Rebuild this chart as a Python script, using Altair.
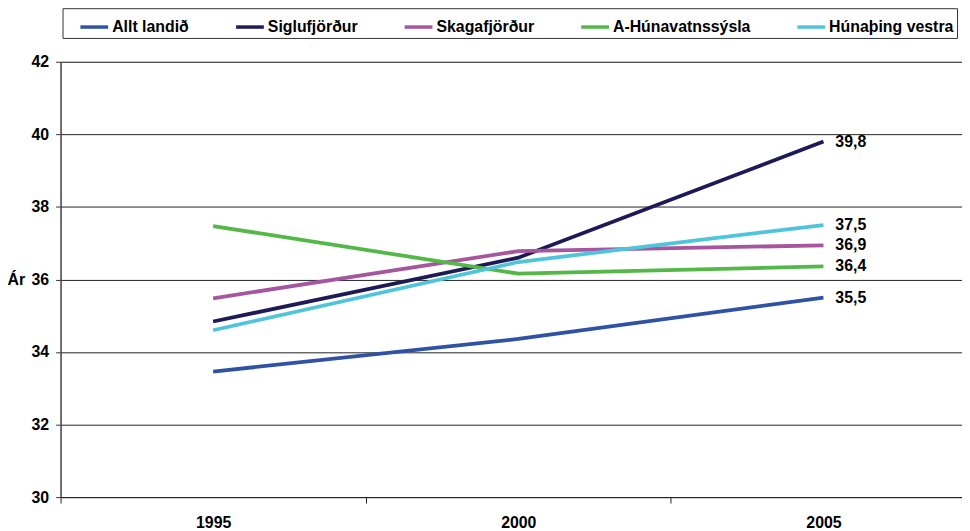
import altair as alt
import pandas as pd

years = [1995, 2000, 2005]
series = ["Allt landið", "Siglufjörður", "Skagafjörður", "A-Húnavatnssýsla", "Húnaþing vestra"]
allt_landid = [33.46, 34.36, 35.50]
siglufjordur = [34.84, 36.60, 39.80]
skagafjordur = [35.48, 36.78, 36.94]
a_hunavatnssysla = [37.47, 36.16, 36.36]
hunathing_vestra = [34.60, 36.48, 37.50]
colors = ["#2F52A4", "#1E1A56", "#A6559F", "#53B848", "#4FC4DB"]

values = [allt_landid, siglufjordur, skagafjordur, a_hunavatnssysla, hunathing_vestra]
rows = []
for name, vals in zip(series, values):
    for y, v in zip(years, vals):
        rows.append({"Ár": y, "Sveitarfélag": name, "Aldur": v})
df = pd.DataFrame(rows)

FONT = "Liberation Sans"

x_enc = alt.X(
    "Ár:Q",
    scale=alt.Scale(domain=[1992.5, 2007.27], nice=False, zero=False),
    axis=alt.Axis(
        title=None,
        values=[1992.5, 1995, 1997.5, 2000, 2002.5, 2005],
        labelExpr="datum.value % 5 == 0 ? datum.value : ''",
        tickOpacity={"condition": {"test": "datum.value % 5 != 0", "value": 1}, "value": 0},
        tickSize=6,
        tickColor="#222",
        labelPadding=12,
        grid=False,
        domainColor="#222",
        labelFont=FONT,
        labelFontSize=16,
        labelFontWeight="bold",
        labelColor="black",
    ),
)

y_enc = alt.Y(
    "Aldur:Q",
    scale=alt.Scale(domain=[30, 42], nice=False, zero=False),
    axis=alt.Axis(
        title="Ár",
        titleAngle=0,
        titleAlign="left",
        titleBaseline="middle",
        titleX=-54,
        titleY=220,
        titleFont=FONT,
        titleFontSize=16,
        titleFontWeight="bold",
        titleColor="black",
        values=[30, 32, 34, 36, 38, 40, 42],
        tickSize=5,
        tickColor="#333",
        labelPadding=7,
        domainColor="#444",
        domainWidth=1.5,
        gridColor="#222",
        gridWidth=1,
        labelFont=FONT,
        labelFontSize=16,
        labelFontWeight="bold",
        labelColor="black",
    ),
)

color_enc = alt.Color(
    "Sveitarfélag:N",
    scale=alt.Scale(domain=series, range=colors),
    sort=series,
    legend=alt.Legend(
        title=" ",
        titleOrient="left",
        titlePadding=13,
        titleFontSize=16,
        orient="none",
        direction="horizontal",
        legendX=2,
        legendY=-54,
        symbolType="stroke",
        symbolSize=784,
        symbolStrokeWidth=3.5,
        labelOffset=2,
        columnPadding=40,
        padding=3,
        strokeColor="#333",
        labelFont=FONT,
        labelFontSize=16,
        labelFontWeight="bold",
        labelColor="black",
        labelLimit=300,
    ),
)

lines = alt.Chart(df).mark_line(strokeWidth=3.8).encode(
    x=x_enc, y=y_enc, color=color_enc, order=alt.Order("Ár:Q")
)

labels = (
    alt.Chart(df)
    .transform_filter(alt.datum["Ár"] == 2005)
    .transform_calculate(lab="replace(format(datum.Aldur, '.1f'), '.', ',')")
    .mark_text(align="left", baseline="middle", dx=12, font=FONT, fontSize=16, fontWeight="bold", color="black")
    .encode(x="Ár:Q", y="Aldur:Q", text="lab:N")
)

chart = (
    alt.layer(lines, labels)
    .properties(
        width=909,
        height=439,
        autosize=alt.AutoSizeParams(type="none"),
        padding={"left": 53, "top": 52, "right": 0, "bottom": 36},
    )
    .configure_view(stroke=None)
    .configure(background="white")
)

chart.save("out.html", embed_options={"renderer": "svg", "actions": False})
